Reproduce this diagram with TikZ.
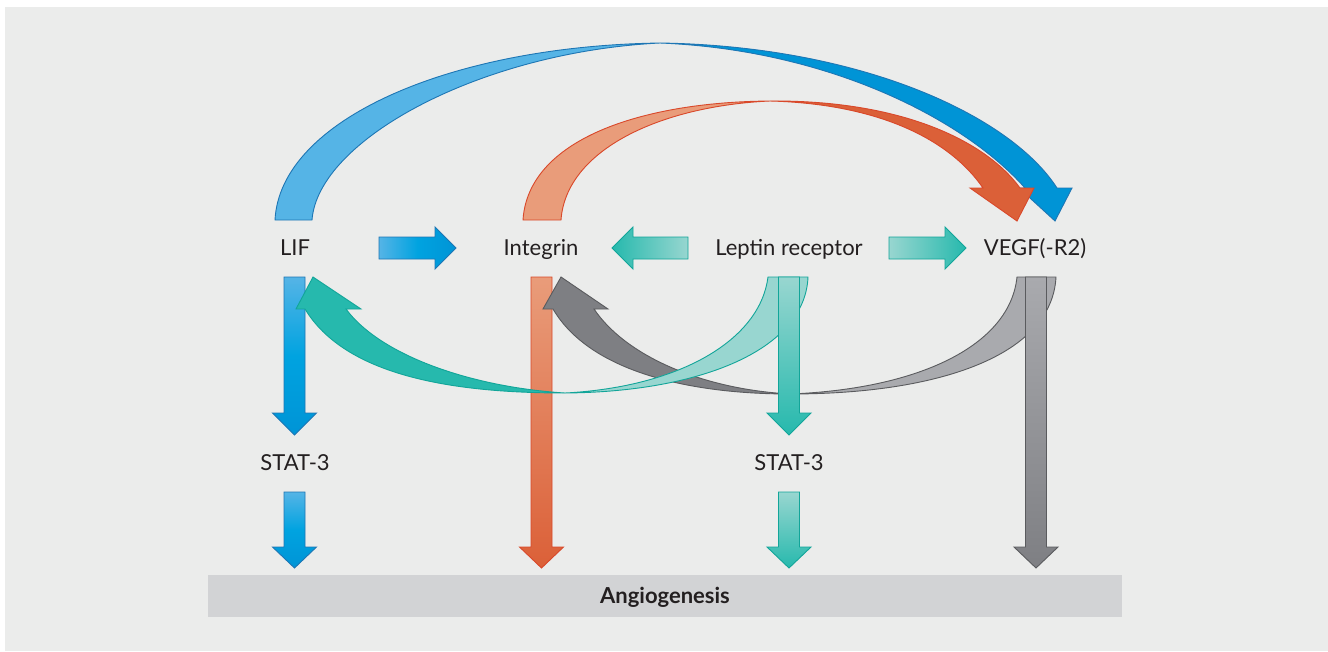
\documentclass[tikz,border=0pt]{standalone}
\usepackage{fontspec}
\setmainfont{Lato}
\usetikzlibrary{positioning}
\definecolor{bgGrey}{RGB}{235,236,235}
\definecolor{barGrey}{RGB}{210,211,213}
\definecolor{txtDark}{RGB}{35,31,32}

% straight block arrows (x, y in pixels)
\newcommand\downarrowshape[5]{%
  \path[#5] (#1-10.5,#2) -- (#1+10.5,#2) -- (#1+10.5,#3) -- (#1+22,#3)
    -- (#1,#4) -- (#1-22,#3) -- (#1-10.5,#3) -- cycle;}
\newcommand\sidearrowshape[5]{%
  \path[#5] (#1,#4-11) -- (#2,#4-11) -- (#2,#4-21) -- (#3,#4)
    -- (#2,#4+21) -- (#2,#4+11) -- (#1,#4+11) -- cycle;}

\begin{document}
\begin{tikzpicture}[x=1pt,y=-1pt]
	\definecolor{lifLight}{RGB}{85,180,230}
	\definecolor{lifMid}{RGB}{0,163,224}
	\definecolor{lifDark}{RGB}{0,148,214}
	\definecolor{lifLine}{RGB}{30,118,180}
	\definecolor{intLight}{RGB}{233,156,122}
	\definecolor{intDark}{RGB}{219,96,56}
	\definecolor{intLine}{RGB}{217,72,42}
	\definecolor{lepLight}{RGB}{152,214,208}
	\definecolor{lepDark}{RGB}{38,185,173}
	\definecolor{lepLine}{RGB}{18,165,153}
	\definecolor{vegLight}{RGB}{169,170,174}
	\definecolor{vegDark}{RGB}{126,127,131}
	\definecolor{vegLine}{RGB}{90,91,94}
	\tikzset{
		lbl/.style={anchor=base, inner sep=0pt, text=txtDark,
			font=\fontsize{22}{26}\selectfont},
		liflt/.style={fill=lifLight, draw=lifLine, line width=0.9pt},
		lifdk/.style={fill=lifDark, draw=lifLine, line width=0.9pt},
		intlt/.style={fill=intLight, draw=intLine, line width=0.9pt},
		intdk/.style={fill=intDark, draw=intLine, line width=0.9pt},
		leplt/.style={fill=lepLight, draw=lepLine, line width=0.9pt},
		lepdk/.style={fill=lepDark, draw=lepLine, line width=0.9pt},
		veglt/.style={fill=vegLight, draw=vegLine, line width=0.9pt},
		vegdk/.style={fill=vegDark, draw=vegLine, line width=0.9pt},
		lifshade/.style={draw=lifLine, line width=0.9pt},
		intshade/.style={draw=intLine, line width=0.9pt},
		lepshade/.style={draw=lepLine, line width=0.9pt},
		vegshade/.style={draw=vegLine, line width=0.9pt}
	}
	% frame
	\useasboundingbox (0,0) rectangle (1328,651);
	\fill[white] (0,0) rectangle (1328,651);
	\fill[bgGrey] (5,7) rectangle (1328,651);
	\fill[barGrey] (208,575) rectangle (1122,617);
	\node[lbl, font=\fontsize{22}{26}\selectfont\bfseries] (angio) at (665,603) {Angiogenesis};

	% upper arcs: LIF and Integrin to VEGF
	\path[liflt] (275,220) .. controls (280,120) and (450,46) .. (660,43)
		.. controls (480,52) and (318,140) .. (312,220) -- cycle;
	\path[lifdk] (660,43) .. controls (860,46) and (1010,115) .. (1057,188)
		-- (1072,188) -- (1055,221) -- (1019,188) -- (1025,188)
		.. controls (965,120) and (830,50) .. (660,43) -- cycle;
	\path[intlt] (523,220) .. controls (528,140) and (640,102) .. (770,101)
		.. controls (660,106) and (566,150) .. (561,220) -- cycle;
	\path[intdk] (770,101) .. controls (900,100) and (985,140) .. (1020,188)
		-- (1034,188) -- (1017,221) -- (970,188) -- (983,188)
		.. controls (950,140) and (880,104) .. (770,101) -- cycle;

	% long downward arrows behind the lower arcs
	\downarrowshape{294.5}{277}{413}{435}{lifshade, top color=lifLight, bottom color=lifDark, middle color=lifMid}
	\downarrowshape{541.5}{277}{547}{568}{intshade, top color=intLight, bottom color=intDark}

	% lower arcs: VEGF to Integrin, Leptin receptor to LIF
	\path[vegdk] (543,309) -- (561,277) -- (608,309) -- (594,309)
		.. controls (625,355) and (700,389) .. (790,394)
		.. controls (690,394) and (590,372) .. (553,309) -- cycle;
	\path[veglt] (1017,277) -- (1056,277)
		.. controls (1052,355) and (940,394) .. (790,394)
		.. controls (920,389) and (1010,345) .. (1017,277) -- cycle;
	\path[lepdk] (296,309) -- (313,277) -- (361,309) -- (346,309)
		.. controls (380,355) and (470,387) .. (565,393)
		.. controls (450,393) and (345,375) .. (305,309) -- cycle;
	\path[leplt] (768,277) -- (808,277)
		.. controls (805,350) and (700,392) .. (565,393)
		.. controls (680,387) and (760,340) .. (768,277) -- cycle;

	\downarrowshape{789}{277}{413}{435}{lepshade, top color=lepLight, bottom color=lepDark}
	\downarrowshape{1036}{277}{547}{568}{vegshade, top color=vegLight, bottom color=vegDark}

	% STAT-3 to angiogenesis
	\downarrowshape{294.5}{492}{547}{568}{lifshade, top color=lifLight, bottom color=lifDark, middle color=lifMid}
	\downarrowshape{789}{492}{547}{568}{lepshade, top color=lepLight, bottom color=lepDark}

	% side arrows
	\sidearrowshape{379}{435}{456}{248}{lifshade, left color=lifLight, right color=lifDark, middle color=lifMid}
	\sidearrowshape{688}{633}{612}{248}{lepshade, left color=lepDark, right color=lepLight}
	\sidearrowshape{889}{945}{966}{248}{lepshade, left color=lepLight, right color=lepDark}

	% labels
	\node[lbl] (lif) at (295,255) {LIF};
	\node[lbl] (integrin) at (541,255) {Integrin};
	\node[lbl] (leptin) at (789,255) {Leptin receptor};
	\node[lbl] (vegf) at (1035,255) {VEGF(-R2)};
	\node[lbl] (statA) at (295,470) {STAT-3};
	\node[lbl] (statB) at (789,470) {STAT-3};
\end{tikzpicture}
\end{document}
